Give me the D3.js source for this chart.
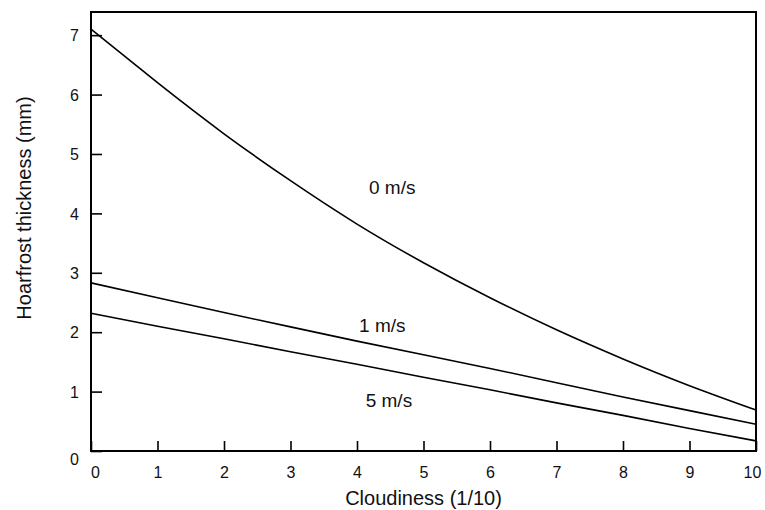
<!DOCTYPE html>
<html>
<head>
<meta charset="utf-8">
<script src="https://cdn.jsdelivr.net/npm/d3@7"></script>
<style>
    body { margin: 0; background: #fff; }
    svg { display: block; font-family: "Liberation Sans", Arial, sans-serif; }
</style>
</head>
<body>
<svg id="vis" width="765" height="510"></svg>
<script>
// Hoarfrost thickness vs cloudiness, for three wind speeds

const cloudiness = [0, 1, 2, 3, 4, 5, 6, 7, 8, 9, 10];
const wind0 = [7.1, 6.2, 5.34, 4.55, 3.82, 3.17, 2.58, 2.04, 1.55, 1.10, 0.69];
const wind1 = [2.83, 2.58, 2.33, 2.09, 1.85, 1.62, 1.39, 1.15, 0.91, 0.68, 0.45];
const wind5 = [2.32, 2.10, 1.89, 1.67, 1.46, 1.24, 1.03, 0.81, 0.60, 0.38, 0.17];
const seriesNames = ["0 m/s", "1 m/s", "5 m/s"];
// where each name sits: [cloudiness, thickness]
const labelAt = [[4.53, 4.44], [4.38, 2.12], [4.48, 0.86]];
const xTicks = [0, 1, 2, 3, 4, 5, 6, 7, 8, 9, 10];
const yTicks = [0, 1, 2, 3, 4, 5, 6, 7];

const svg = d3.select('#vis');
const plotLeft = 91, plotRight = 756, plotTop = 12, plotBottom = 451;

const x = d3.scaleLinear().domain([0, 10]).range([plotLeft, plotRight]);
const y = d3.scaleLinear().domain([0, 7.39]).range([plotBottom, plotTop]);

// x axis, ticks pointing inward
const xAxis = svg.append('g')
    .attr('transform', 'translate(0,' + plotBottom + ')')
    .call(d3.axisBottom(x).tickValues(xTicks).tickSizeInner(-10).tickSizeOuter(0).tickPadding(16));
xAxis.select('.domain').remove();
xAxis.selectAll('line').attr('stroke', '#000').attr('stroke-width', 1.6);
xAxis.selectAll('text')
    .attr('font-size', '16px')
    .attr('font-family', '"Liberation Sans", Arial, sans-serif')
    .attr('fill', '#111')
    .attr('dx', function (d) {
        if (d == 0) return 4;
        if (d == 10) return -4;
        return 0;
    });

// y axis
const yAxis = svg.append('g')
    .attr('transform', 'translate(' + plotLeft + ',0)')
    .call(d3.axisLeft(y).tickValues(yTicks).tickSizeInner(-11).tickSizeOuter(0).tickPadding(12));
yAxis.select('.domain').remove();
yAxis.selectAll('line').attr('stroke', '#000').attr('stroke-width', 1.6);
yAxis.selectAll('text')
    .attr('font-size', '16px')
    .attr('font-family', '"Liberation Sans", Arial, sans-serif')
    .attr('fill', '#111')
    .attr('dy', function (d) {
        return d == 0 ? '0.85em' : '0.36em';
    });

// frame
svg.append('rect')
    .attr('x', plotLeft)
    .attr('y', plotTop)
    .attr('width', plotRight - plotLeft)
    .attr('height', plotBottom - plotTop)
    .attr('fill', 'none')
    .attr('stroke', '#000')
    .attr('stroke-width', 2);

// curves: smooth spline for still air, straight for windy
const smooth = d3.line()
    .x(function (d) { return x(d[0]); })
    .y(function (d) { return y(d[1]); })
    .curve(d3.curveNatural);
const straight = d3.line()
    .x(function (d) { return x(d[0]); })
    .y(function (d) { return y(d[1]); });

[[wind0, smooth], [wind1, straight], [wind5, straight]].forEach(function (s) {
    svg.append('path')
        .datum(cloudiness.map(function (c, i) { return [c, s[0][i]]; }))
        .attr('d', s[1])
        .attr('fill', 'none')
        .attr('stroke', '#000')
        .attr('stroke-width', 1.6);
});

// series names
svg.selectAll('.series-label')
    .data(seriesNames)
    .enter().append('text')
    .attr('class', 'series-label')
    .attr('x', function (d, i) { return x(labelAt[i][0]); })
    .attr('y', function (d, i) { return y(labelAt[i][1]); })
    .attr('dy', '0.35em')
    .attr('text-anchor', 'middle')
    .attr('font-size', '19px')
    .attr('fill', '#111')
    .text(function (d) { return d; });

// axis titles
svg.append('text')
    .attr('x', (plotLeft + plotRight) / 2)
    .attr('y', 505)
    .attr('text-anchor', 'middle')
    .attr('font-size', '20px')
    .attr('fill', '#111')
    .text('Cloudiness (1/10)');

svg.append('text')
    .attr('transform', 'translate(31,208) rotate(-90)')
    .attr('text-anchor', 'middle')
    .attr('font-size', '20px')
    .attr('fill', '#111')
    .text('Hoarfrost thickness (mm)');
</script>
</body>
</html>
